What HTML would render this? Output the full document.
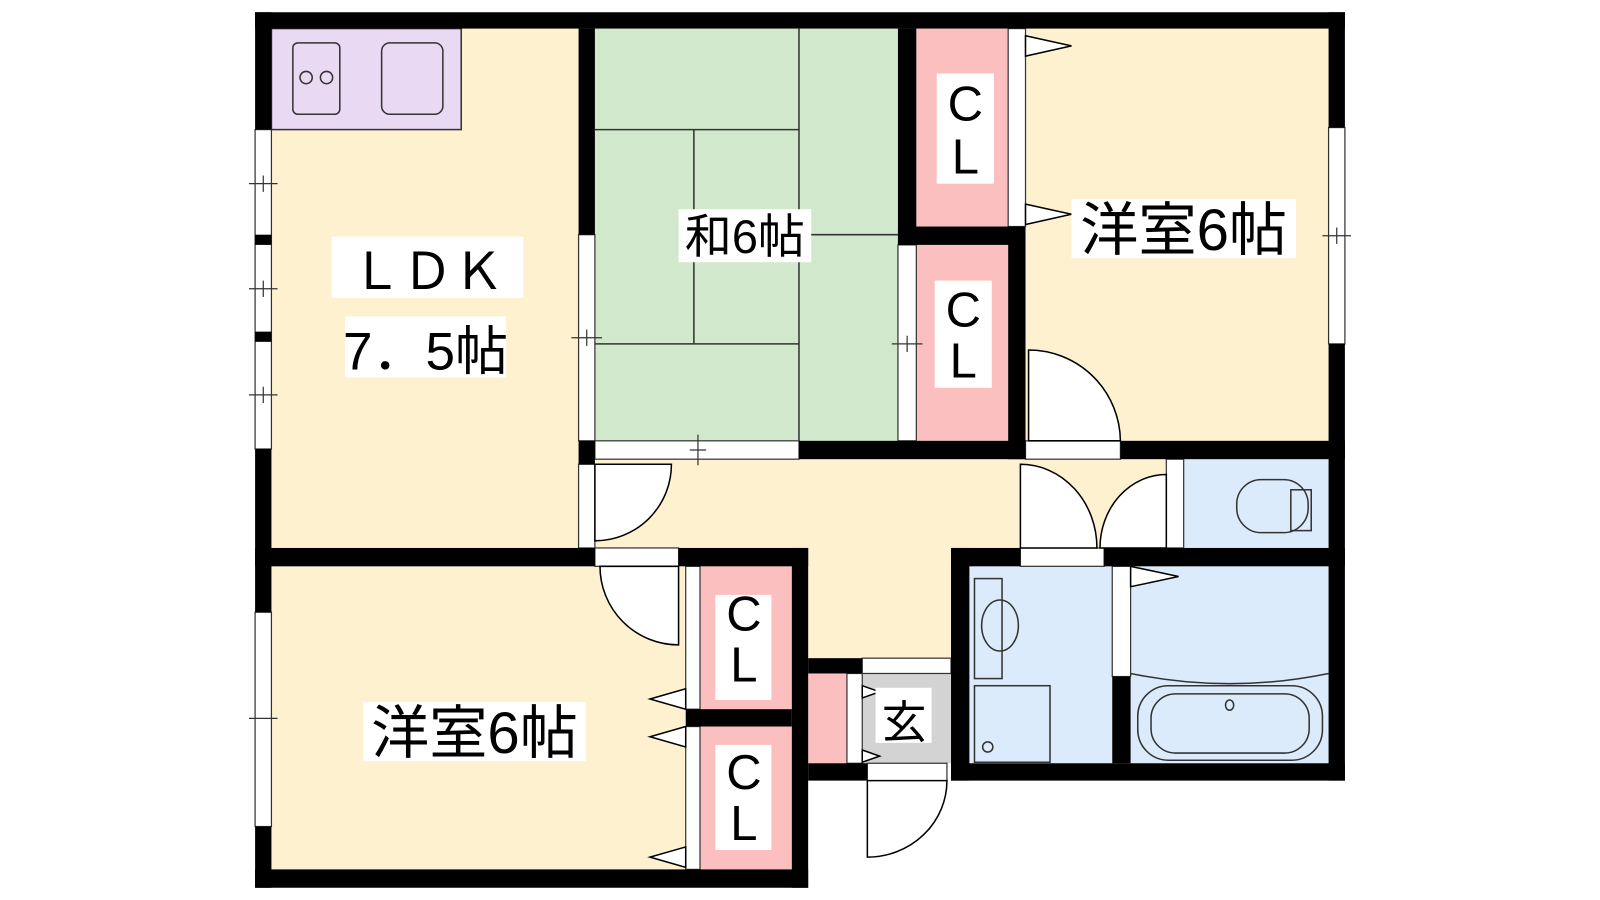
<!DOCTYPE html>
<html><head><meta charset="utf-8"><style>body{margin:0;background:#fff}svg{display:block}text{font-family:"Liberation Sans","Noto Sans CJK JP",sans-serif;fill:#000}</style></head><body>
<svg width="1600" height="900" viewBox="0 0 1568 882" xmlns="http://www.w3.org/2000/svg">
<g stroke="none">
<rect x="266" y="28" width="301" height="509" fill="#fdf1d0"/>
<rect x="266" y="28" width="186" height="99" fill="#ead9f2" stroke="#333" stroke-width="1.5"/>
<rect x="583" y="28" width="297" height="404" fill="#d1e8cc"/>
<rect x="898" y="28" width="90" height="194" fill="#fbbfbf"/>
<rect x="898" y="240" width="90" height="192" fill="#fbbfbf"/>
<rect x="1005" y="28" width="297" height="404" fill="#fdf1d0"/>
<rect x="583" y="450" width="560" height="87" fill="#fdf1d0"/>
<rect x="567" y="450" width="20" height="90" fill="#fdf1d0"/>
<rect x="792" y="537" width="140" height="108" fill="#fdf1d0"/>
<rect x="1160" y="450" width="142" height="87" fill="#dcebfb"/>
<rect x="950" y="555" width="140" height="193" fill="#dcebfb"/>
<rect x="1108" y="555" width="194" height="193" fill="#dcebfb"/>
<rect x="845" y="660" width="87" height="88" fill="#d3d3d3"/>
<rect x="792" y="660" width="38" height="88" fill="#fbbfbf"/>
<rect x="266" y="555" width="406" height="297" fill="#fdf1d0"/>
<rect x="686" y="555" width="90" height="140" fill="#fbbfbf"/>
<rect x="686" y="712" width="90" height="140" fill="#fbbfbf"/>
</g>
<g stroke="#333" stroke-width="1.5" fill="none">
<line x1="783" y1="28" x2="783" y2="432"/>
<line x1="583" y1="127" x2="783" y2="127"/>
<line x1="680" y1="127" x2="680" y2="337"/>
<line x1="583" y1="337" x2="783" y2="337"/>
<line x1="783" y1="230" x2="880" y2="230"/>
</g>
<g fill="#fff" stroke="#333" stroke-width="1.2">
<rect x="250" y="127" width="16" height="313"/>
<rect x="250" y="600" width="16" height="210"/>
<rect x="567" y="230" width="16" height="202"/>
<rect x="583" y="432" width="200" height="18"/>
<rect x="880" y="240" width="18" height="192"/>
<rect x="988" y="28" width="17" height="194"/>
<rect x="1302" y="125" width="16" height="212"/>
<rect x="1005" y="432" width="93" height="18"/>
<rect x="567" y="455" width="16" height="82"/>
<rect x="1143" y="450" width="17" height="87"/>
<rect x="1000" y="537" width="82" height="18"/>
<rect x="583" y="537" width="82" height="18"/>
<rect x="672" y="555" width="14" height="140"/>
<rect x="672" y="712" width="14" height="140"/>
<rect x="1090" y="555" width="18" height="108"/>
<rect x="845" y="645" width="87" height="15"/>
<rect x="830" y="660" width="15" height="88"/>
<rect x="850" y="748" width="78" height="17"/>
</g>
<g stroke="#333" stroke-width="1.2">
<line x1="244" y1="180" x2="272" y2="180"/><line x1="258" y1="172" x2="258" y2="188"/>
<line x1="244" y1="283" x2="272" y2="283"/><line x1="258" y1="275" x2="258" y2="291"/>
<line x1="244" y1="387" x2="272" y2="387"/><line x1="258" y1="379" x2="258" y2="395"/>
<line x1="244" y1="704" x2="272" y2="704"/>
<line x1="560" y1="331" x2="590" y2="331"/><line x1="575" y1="323" x2="575" y2="339"/>
<line x1="874" y1="337" x2="904" y2="337"/><line x1="889" y1="329" x2="889" y2="345"/>
<line x1="684" y1="426" x2="684" y2="456"/><line x1="676" y1="441" x2="692" y2="441"/>
<line x1="1296" y1="231" x2="1324" y2="231"/><line x1="1310" y1="223" x2="1310" y2="239"/>
</g>
<g fill="#000">
<rect x="250" y="12" width="1068" height="16"/>
<rect x="250" y="12" width="16" height="115"/>
<rect x="250" y="230" width="16" height="10"/>
<rect x="250" y="325" width="16" height="10"/>
<rect x="250" y="440" width="16" height="160"/>
<rect x="250" y="810" width="16" height="60"/>
<rect x="250" y="852" width="542" height="18"/>
<rect x="776" y="537" width="16" height="333"/>
<rect x="567" y="28" width="16" height="202"/>
<rect x="567" y="432" width="16" height="23"/>
<rect x="783" y="432" width="222" height="18"/>
<rect x="880" y="28" width="18" height="212"/>
<rect x="880" y="222" width="125" height="18"/>
<rect x="988" y="222" width="17" height="228"/>
<rect x="1302" y="12" width="16" height="113"/>
<rect x="1302" y="337" width="16" height="428"/>
<rect x="1098" y="432" width="220" height="18"/>
<rect x="250" y="537" width="333" height="18"/>
<rect x="665" y="537" width="127" height="18"/>
<rect x="672" y="695" width="104" height="17"/>
<rect x="932" y="537" width="68" height="18"/>
<rect x="1082" y="537" width="236" height="18"/>
<rect x="932" y="537" width="18" height="228"/>
<rect x="932" y="748" width="386" height="17"/>
<rect x="1090" y="663" width="18" height="85"/>
<rect x="792" y="645" width="53" height="15"/>
<rect x="792" y="748" width="58" height="17"/>
</g>
<g fill="#fff" stroke="#000" stroke-width="1.5">
<path d="M1008 343 A90 90 0 0 1 1098 432 L1008 432 Z"/>
<path d="M583 455 L658 455 A75 75 0 0 1 583 530 Z"/>
<path d="M1000 455 A75 82 0 0 1 1075 537 L1000 537 Z"/>
<path d="M1143 465 A65 72 0 0 0 1078 537 L1143 537 Z"/>
<path d="M588 555 L665 555 L665 632 A77 77 0 0 1 588 555 Z"/>
<path d="M850 765 L928 765 A78 75 0 0 1 850 840 Z"/>
<path d="M1005 35 L1050 45 L1005 55 Z"/>
<path d="M1005 200 L1050 210 L1005 220 Z"/>
<path d="M1108 555 L1155 565 L1108 575 Z"/>
<path d="M672 675 L637 685 L672 695 Z"/>
<path d="M672 712 L637 722 L672 732 Z"/>
<path d="M672 830 L637 840 L672 850 Z"/>
<path d="M845 672 L862 678 L845 684 Z"/>
<path d="M845 735 L862 741 L845 747 Z"/>
</g>
<g fill="none" stroke="#333" stroke-width="1.5">
<rect x="287" y="42" width="46" height="70" rx="5"/>
<circle cx="300" cy="76" r="6"/><circle cx="320" cy="76" r="6"/>
<rect x="374" y="42" width="60" height="70" rx="8"/>
<rect x="1212" y="470" width="70" height="52" rx="24"/>
<rect x="1265" y="480" width="20" height="40"/>
<rect x="955" y="567" width="27" height="98"/>
<ellipse cx="980" cy="613" rx="18" ry="25"/>
<rect x="955" y="672" width="74" height="75"/>
<circle cx="968" cy="732" r="5"/>
<path d="M1108 660 Q1205 680 1302 660"/>
<rect x="1115" y="672" width="181" height="73" rx="30"/>
<rect x="1128" y="680" width="155" height="58" rx="24"/>
<ellipse cx="1205" cy="691" rx="4" ry="5"/>
</g>
<g font-size="48" text-anchor="middle">
<rect x="325" y="232" width="188" height="60" fill="#fff"/>
<text x="419" y="283" font-size="50">ＬＤＫ</text>
<rect x="338" y="310" width="158" height="60" fill="#fff"/>
<text x="417" y="362" font-size="52">7．5帖</text>
<rect x="665" y="205" width="130" height="52" fill="#fff"/>
<text x="730" y="248" font-size="46">和6帖</text>
<rect x="1050" y="195" width="220" height="58" fill="#fff"/>
<text x="1160" y="245" font-size="57">洋室6帖</text>
<rect x="356" y="688" width="218" height="58" fill="#fff"/>
<text x="465" y="738" font-size="57">洋室6帖</text>
<rect x="918" y="72" width="56" height="108" fill="#fff"/>
<text x="946" y="118">C</text><text x="946" y="170">L</text>
<rect x="916" y="275" width="56" height="105" fill="#fff"/>
<text x="944" y="320">C</text><text x="944" y="370">L</text>
<rect x="701" y="583" width="55" height="103" fill="#fff"/>
<text x="729" y="618">C</text><text x="729" y="668">L</text>
<rect x="701" y="730" width="55" height="103" fill="#fff"/>
<text x="729" y="773">C</text><text x="729" y="823">L</text>
<rect x="858" y="674" width="55" height="54" fill="#fff"/>
<text x="886" y="723" font-size="44">玄</text>
</g>
</svg>
</body></html>
